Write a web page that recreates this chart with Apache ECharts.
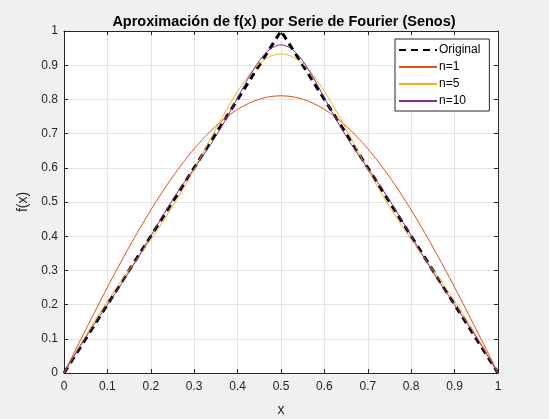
<!DOCTYPE html>
<html>
<head>
<meta charset="utf-8">
<script src="https://cdn.jsdelivr.net/npm/echarts@6/dist/echarts.min.js"></script>
<style>
html,body{margin:0;padding:0;background:#F0F0F0;}
#c{width:549px;height:419px;}
</style>
</head>
<body>
<div id="c"></div>
<script>
const xs = [0,0.025,0.05,0.075,0.1,0.125,0.15,0.175,0.2,0.225,0.25,0.275,0.3,0.325,0.35,0.375,0.4,0.425,0.45,0.475,0.5,
  0.525,0.55,0.575,0.6,0.625,0.65,0.675,0.7,0.725,0.75,0.775,0.8,0.825,0.85,0.875,0.9,0.925,0.95,0.975,1];
const original = [0,0.05,0.1,0.15,0.2,0.25,0.3,0.35,0.4,0.45,0.5,0.55,0.6,0.65,0.7,0.75,0.8,0.85,0.9,0.95,1,
  0.95,0.9,0.85,0.8,0.75,0.7,0.65,0.6,0.55,0.5,0.45,0.4,0.35,0.3,0.25,0.2,0.15,0.1,0.05,0];
const n1 = [0,0.0636,0.1268,0.1892,0.2505,0.3102,0.3680,0.4235,0.4764,0.5264,0.5732,0.6164,0.6558,0.6911,0.7222,0.7489,0.7709,0.7882,0.8006,0.8081,0.8106,
  0.8081,0.8006,0.7882,0.7709,0.7489,0.7222,0.6911,0.6558,0.6164,0.5732,0.5264,0.4764,0.4235,0.3680,0.3102,0.2505,0.1892,0.1268,0.0636,0];
const n5 = [0,0.0550,0.1088,0.1607,0.2100,0.2569,0.3020,0.3462,0.3908,0.4372,0.4866,0.5394,0.5955,0.6541,0.7134,0.7709,0.8238,0.8691,0.9038,0.9256,0.9331,
  0.9256,0.9038,0.8691,0.8238,0.7709,0.7134,0.6541,0.5955,0.5394,0.4866,0.4372,0.3908,0.3462,0.3020,0.2569,0.2100,0.1607,0.1088,0.0550,0];
const n10 = [0,0.0529,0.1040,0.1527,0.1998,0.2468,0.2956,0.3472,0.4006,0.4541,0.5053,0.5532,0.5985,0.6439,0.6925,0.7464,0.8046,0.8625,0.9128,0.9473,0.9596,
  0.9473,0.9128,0.8625,0.8046,0.7464,0.6925,0.6439,0.5985,0.5532,0.5053,0.4541,0.4006,0.3472,0.2956,0.2468,0.1998,0.1527,0.1040,0.0529,0];
const seriesNames = ['Original','n=1','n=5','n=10'];

const pairs = ys => xs.map((x,i)=>[x, ys[i]]);
const axisCol = '#262626';
const font = 'Liberation Sans, Arial, Helvetica, sans-serif';

const chart = echarts.init(document.getElementById('c'));
chart.setOption({
  backgroundColor: '#F0F0F0',
  animation: false,
  title: {
    text: 'Aproximación de f(x) por Serie de Fourier (Senos)',
    left: 279, top: 9, textAlign: 'center',
    textStyle: {fontFamily: font, fontSize: 14.5, fontWeight: 'bold', color: '#000'}
  },
  grid: {left: 64, right: 51, top: 31, bottom: 46, show: true, backgroundColor: '#fff', borderWidth: 0,
         containLabel: false, outerBoundsMode: 'none'},
  legend: {
    orient: 'vertical', left: 395, top: 39,
    backgroundColor: '#fff', borderColor: axisCol, borderWidth: 1, borderRadius: 0,
    padding: [5, 9, 4, 3], itemGap: 5, itemWidth: 38, itemHeight: 12,
    itemStyle: {opacity: 0},
    textStyle: {fontFamily: font, fontSize: 12, color: '#000', padding: [0,0,0,-3]},
    data: seriesNames
  },
  xAxis: [{
    type: 'value', min: 0, max: 1, interval: 0.1,
    name: 'x', nameLocation: 'middle', nameGap: 30,
    nameTextStyle: {fontFamily: font, fontSize: 14, color: axisCol},
    axisLine: {show: true, lineStyle: {color: axisCol, width: 1}},
    axisTick: {show: true, inside: true, length: 4, lineStyle: {color: axisCol}},
    axisLabel: {fontFamily: font, fontSize: 12, color: axisCol, margin: 8},
    splitLine: {show: true, lineStyle: {color: '#E3E3E3', width: 1}}
  },{
    type: 'value', min: 0, max: 1, interval: 0.1, position: 'top',
    axisLine: {show: true, onZero: false, lineStyle: {color: axisCol, width: 1}},
    axisTick: {show: true, inside: true, length: 4, lineStyle: {color: axisCol}},
    axisLabel: {show: false}, splitLine: {show: false}
  }],
  yAxis: [{
    type: 'value', min: 0, max: 1, interval: 0.1,
    name: 'f(x)', nameLocation: 'middle', nameGap: 29, nameRotate: 90,
    nameTextStyle: {fontFamily: font, fontSize: 14, color: axisCol},
    axisLine: {show: true, lineStyle: {color: axisCol, width: 1}},
    axisTick: {show: true, inside: true, length: 4, lineStyle: {color: axisCol}},
    axisLabel: {fontFamily: font, fontSize: 12, color: axisCol, margin: 6},
    splitLine: {show: true, lineStyle: {color: '#E3E3E3', width: 1}}
  },{
    type: 'value', min: 0, max: 1, interval: 0.1, position: 'right',
    axisLine: {show: true, onZero: false, lineStyle: {color: axisCol, width: 1}},
    axisTick: {show: true, inside: true, length: 4, lineStyle: {color: axisCol}},
    axisLabel: {show: false}, splitLine: {show: false}
  }],
  series: [
    {name: seriesNames[0], type: 'line', data: pairs(original), symbol: 'none',
     lineStyle: {color: '#000', width: 3, type: [7, 5]}, itemStyle: {color: '#000'}},
    {name: seriesNames[1], type: 'line', data: pairs(n1), symbol: 'none', smooth: 0.3,
     lineStyle: {color: '#D95319', width: 1}, itemStyle: {color: '#D95319'}},
    {name: seriesNames[2], type: 'line', data: pairs(n5), symbol: 'none', smooth: 0.3,
     lineStyle: {color: '#EDB120', width: 1}, itemStyle: {color: '#EDB120'}},
    {name: seriesNames[3], type: 'line', data: pairs(n10), symbol: 'none', smooth: 0.3,
     lineStyle: {color: '#7E2F8E', width: 1}, itemStyle: {color: '#7E2F8E'}}
  ]
});
</script>
</body>
</html>
